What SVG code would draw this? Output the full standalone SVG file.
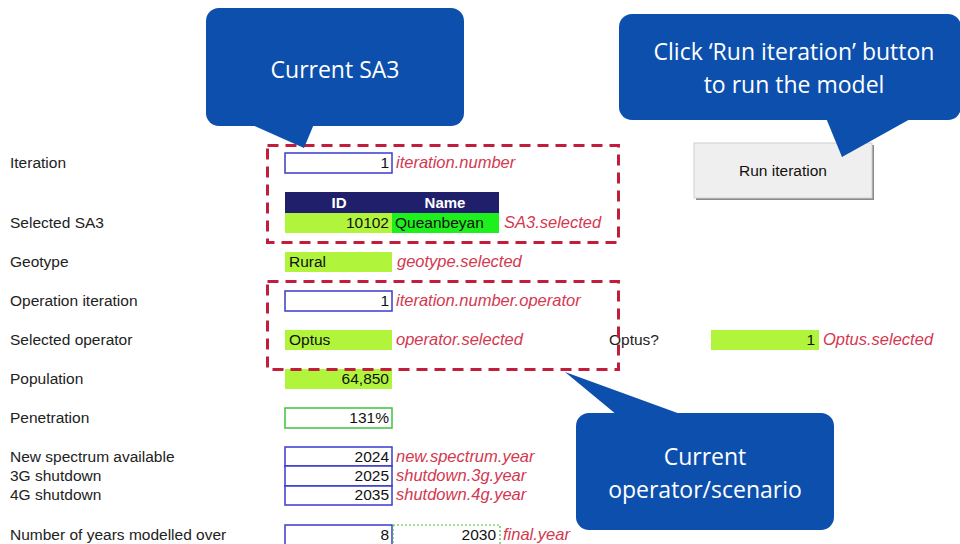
<svg xmlns="http://www.w3.org/2000/svg" width="960" height="544" viewBox="0 0 960 544">
<style>
.lbl{font-family:"Liberation Sans",Arial,sans-serif;font-size:15.5px;fill:#222}
.val{font-family:"Liberation Sans",Arial,sans-serif;font-size:15.5px;fill:#111}
.nm{font-family:"Liberation Sans",Arial,sans-serif;font-size:16.5px;font-style:italic;fill:#d4384f}
.hdr{font-family:"Liberation Sans",Arial,sans-serif;font-size:15px;font-weight:bold;fill:#fff}
.lime{fill:#b0f53c}
.inb{fill:#fff;stroke:#3a3acc;stroke-width:1.5}
.dash{fill:none;stroke:#c01e3c;stroke-width:3;stroke-dasharray:11 7}
.call{fill:#0d4fad}
.ct{font-family:"Open Sans","Liberation Sans",sans-serif;font-size:23px;fill:#fff;text-anchor:middle}
</style>
<rect width="960" height="544" fill="#fff"/>

<g id="labels">
<text class="lbl" x="10" y="168">Iteration</text>
<text class="lbl" x="10" y="228">Selected SA3</text>
<text class="lbl" x="10" y="267">Geotype</text>
<text class="lbl" x="10" y="306">Operation iteration</text>
<text class="lbl" x="10" y="345">Selected operator</text>
<text class="lbl" x="10" y="384">Population</text>
<text class="lbl" x="10" y="423">Penetration</text>
<text class="lbl" x="10" y="462">New spectrum available</text>
<text class="lbl" x="10" y="481">3G shutdown</text>
<text class="lbl" x="10" y="500">4G shutdown</text>
<text class="lbl" x="10" y="540">Number of years modelled over</text>
</g>

<g id="iteration">
<rect class="inb" x="285" y="153" width="107" height="20"/>
<text class="val" x="389" y="168" text-anchor="end">1</text>
<text class="nm" x="396" y="168">iteration.number</text>
</g>

<g id="sa3">
<rect x="285" y="192" width="214" height="21" fill="#1f1f6b"/>
<text class="hdr" x="339" y="208" text-anchor="middle">ID</text>
<text class="hdr" x="445" y="208" text-anchor="middle">Name</text>
<rect class="lime" x="285" y="213" width="107" height="20"/>
<rect x="392" y="213" width="107" height="20" fill="#1ef01e"/>
<text class="val" x="389" y="228" text-anchor="end">10102</text>
<text class="val" x="395" y="228">Queanbeyan</text>
<text class="nm" x="504" y="228">SA3.selected</text>
</g>

<g id="geotype">
<rect class="lime" x="285" y="252" width="107" height="20"/>
<text class="val" x="289" y="267">Rural</text>
<text class="nm" x="397" y="267">geotype.selected</text>
</g>

<g id="opiter">
<rect class="inb" x="285" y="291" width="107" height="20"/>
<text class="val" x="389" y="306" text-anchor="end">1</text>
<text class="nm" x="396" y="306">iteration.number.operator</text>
</g>

<g id="operator">
<rect class="lime" x="285" y="330" width="107" height="20"/>
<text class="val" x="289" y="345">Optus</text>
<text class="nm" x="396" y="345">operator.selected</text>
</g>

<g id="optusq">
<text class="lbl" x="609" y="345">Optus?</text>
<rect class="lime" x="711" y="330" width="108" height="20"/>
<text class="val" x="815" y="345" text-anchor="end">1</text>
<text class="nm" x="823" y="345">Optus.selected</text>
</g>

<g id="population">
<rect class="lime" x="285" y="369" width="107" height="20"/>
<text class="val" x="389" y="384" text-anchor="end">64,850</text>
</g>

<g id="penetration">
<rect x="285" y="408" width="107" height="20" fill="#fff" stroke="#3cc43c" stroke-width="1.5"/>
<text class="val" x="389" y="423" text-anchor="end">131%</text>
</g>

<g id="years">
<rect class="inb" x="285" y="447" width="107" height="19"/>
<rect class="inb" x="285" y="466" width="107" height="20"/>
<rect class="inb" x="285" y="486" width="107" height="19"/>
<text class="val" x="389" y="462" text-anchor="end">2024</text>
<text class="val" x="389" y="481" text-anchor="end">2025</text>
<text class="val" x="389" y="500" text-anchor="end">2035</text>
<text class="nm" x="396" y="462">new.spectrum.year</text>
<text class="nm" x="396" y="481">shutdown.3g.year</text>
<text class="nm" x="396" y="500">shutdown.4g.year</text>
</g>

<g id="modelled">
<rect class="inb" x="285" y="525" width="107" height="20"/>
<text class="val" x="389" y="540" text-anchor="end">8</text>
<rect x="393" y="525" width="107" height="20" fill="none" stroke="#3cc43c" stroke-width="1.2" stroke-dasharray="2 2"/>
<text class="val" x="496" y="540" text-anchor="end">2030</text>
<text class="nm" x="503" y="540">final.year</text>
</g>

<g id="highlights">
<rect class="dash" x="267.5" y="145.5" width="351" height="97"/>
<rect class="dash" x="267.5" y="281.5" width="351" height="88"/>
</g>

<g id="button">
<rect x="696" y="145" width="178" height="55" fill="#8a8a8a"/>
<rect x="694" y="143" width="178" height="55" fill="#efefef" stroke="#d0d0d0" stroke-width="1"/>
<text x="783" y="176" font-family="'Liberation Sans',Arial,sans-serif" font-size="15.5" fill="#111" text-anchor="middle">Run iteration</text>
</g>

<g id="callout-sa3">
<rect class="call" x="206" y="8" width="258" height="118" rx="13"/>
<path class="call" d="M250 124 L304 148 L314 124 Z"/>
<text class="ct" x="335" y="78">Current SA3</text>
</g>

<g id="callout-run">
<rect class="call" x="619" y="14" width="342" height="106" rx="13"/>
<path class="call" d="M826 118 L842 157 L912 118 Z"/>
<text class="ct" x="794" y="60">Click ‘Run iteration’ button</text>
<text class="ct" x="794" y="93">to run the model</text>
</g>

<g id="callout-op">
<rect class="call" x="576" y="413" width="258" height="117" rx="13"/>
<path class="call" d="M617 415 L565 372 L683 415 Z"/>
<text class="ct" x="705" y="465">Current</text>
<text class="ct" x="705" y="498">operator/scenario</text>
</g>
</svg>
